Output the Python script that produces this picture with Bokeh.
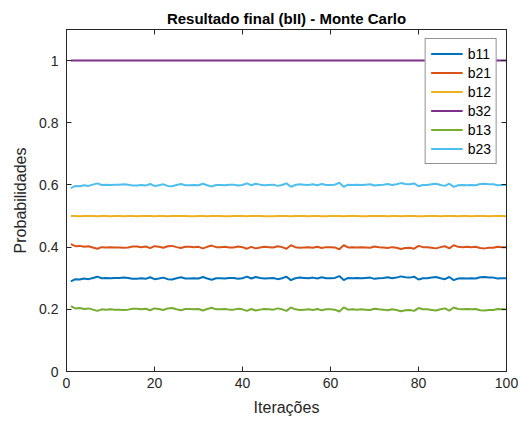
from bokeh.plotting import figure
from bokeh.models import LinearAxis, FixedTicker, Range1d, Legend, LegendItem
from bokeh.embed import file_html
from bokeh.resources import INLINE

iteracoes = list(range(1, 101))

b11 = [0.290, 0.297, 0.296, 0.299, 0.297, 0.301, 0.305, 0.300, 0.301, 0.300,
       0.301, 0.301, 0.302, 0.301, 0.298, 0.298, 0.300, 0.298, 0.303, 0.297,
       0.299, 0.302, 0.297, 0.296, 0.300, 0.303, 0.299, 0.299, 0.300, 0.299,
       0.304, 0.299, 0.295, 0.300, 0.300, 0.299, 0.301, 0.301, 0.298, 0.300,
       0.305, 0.299, 0.304, 0.301, 0.299, 0.300, 0.301, 0.297, 0.300, 0.305,
       0.294, 0.300, 0.302, 0.301, 0.300, 0.302, 0.299, 0.303, 0.300, 0.300,
       0.301, 0.307, 0.294, 0.301, 0.300, 0.301, 0.300, 0.301, 0.302, 0.298,
       0.300, 0.301, 0.303, 0.300, 0.302, 0.306, 0.303, 0.302, 0.305, 0.296,
       0.300, 0.300, 0.302, 0.304, 0.300, 0.297, 0.304, 0.294, 0.299, 0.300,
       0.299, 0.300, 0.299, 0.303, 0.304, 0.302, 0.302, 0.299, 0.300, 0.300]

b21 = [0.410, 0.403, 0.404, 0.401, 0.403, 0.399, 0.395, 0.400, 0.399, 0.400,
       0.399, 0.399, 0.398, 0.399, 0.402, 0.402, 0.400, 0.402, 0.397, 0.403,
       0.401, 0.398, 0.403, 0.404, 0.400, 0.397, 0.401, 0.401, 0.400, 0.401,
       0.396, 0.401, 0.405, 0.400, 0.400, 0.401, 0.399, 0.399, 0.402, 0.400,
       0.395, 0.401, 0.396, 0.399, 0.401, 0.400, 0.399, 0.403, 0.400, 0.395,
       0.406, 0.400, 0.398, 0.399, 0.400, 0.398, 0.401, 0.397, 0.400, 0.400,
       0.399, 0.393, 0.406, 0.399, 0.400, 0.399, 0.400, 0.399, 0.398, 0.402,
       0.400, 0.399, 0.397, 0.400, 0.398, 0.394, 0.397, 0.398, 0.395, 0.404,
       0.400, 0.400, 0.398, 0.396, 0.400, 0.403, 0.396, 0.406, 0.401, 0.400,
       0.401, 0.400, 0.401, 0.397, 0.396, 0.398, 0.398, 0.401, 0.400, 0.400]

b12 = [0.500, 0.500, 0.499, 0.500, 0.500, 0.500, 0.499, 0.500, 0.500, 0.499,
       0.500, 0.500, 0.499, 0.500, 0.500, 0.499, 0.500, 0.500, 0.500, 0.499,
       0.500, 0.500, 0.499, 0.500, 0.500, 0.500, 0.500, 0.499, 0.499, 0.500,
       0.500, 0.499, 0.500, 0.500, 0.500, 0.499, 0.499, 0.500, 0.500, 0.500,
       0.499, 0.500, 0.500, 0.500, 0.499, 0.499, 0.499, 0.500, 0.500, 0.500,
       0.499, 0.500, 0.500, 0.500, 0.499, 0.500, 0.500, 0.499, 0.499, 0.500,
       0.500, 0.500, 0.499, 0.500, 0.500, 0.500, 0.499, 0.499, 0.500, 0.500,
       0.500, 0.500, 0.499, 0.500, 0.500, 0.499, 0.500, 0.500, 0.500, 0.499,
       0.499, 0.500, 0.500, 0.500, 0.499, 0.500, 0.500, 0.500, 0.499, 0.500,
       0.500, 0.499, 0.500, 0.500, 0.500, 0.499, 0.500, 0.500, 0.500, 0.499]

b32 = [1.0] * 100

b13 = [0.210, 0.203, 0.204, 0.201, 0.203, 0.199, 0.195, 0.200, 0.199, 0.200,
       0.199, 0.199, 0.198, 0.199, 0.202, 0.202, 0.200, 0.202, 0.197, 0.203,
       0.201, 0.198, 0.203, 0.204, 0.200, 0.197, 0.201, 0.201, 0.200, 0.201,
       0.196, 0.201, 0.205, 0.200, 0.200, 0.201, 0.199, 0.199, 0.202, 0.200,
       0.195, 0.201, 0.196, 0.199, 0.201, 0.200, 0.199, 0.203, 0.200, 0.195,
       0.206, 0.200, 0.198, 0.199, 0.200, 0.198, 0.201, 0.197, 0.200, 0.200,
       0.199, 0.193, 0.206, 0.199, 0.200, 0.199, 0.200, 0.199, 0.198, 0.202,
       0.200, 0.199, 0.197, 0.200, 0.198, 0.194, 0.197, 0.198, 0.195, 0.204,
       0.200, 0.200, 0.198, 0.196, 0.200, 0.203, 0.196, 0.206, 0.201, 0.200,
       0.201, 0.200, 0.201, 0.197, 0.196, 0.198, 0.198, 0.201, 0.200, 0.200]

b23 = [0.590, 0.597, 0.596, 0.599, 0.597, 0.601, 0.605, 0.600, 0.601, 0.600,
       0.601, 0.601, 0.602, 0.601, 0.598, 0.598, 0.600, 0.598, 0.603, 0.597,
       0.599, 0.602, 0.597, 0.596, 0.600, 0.603, 0.599, 0.599, 0.600, 0.599,
       0.604, 0.599, 0.595, 0.600, 0.600, 0.599, 0.601, 0.601, 0.598, 0.600,
       0.605, 0.599, 0.604, 0.601, 0.599, 0.600, 0.601, 0.597, 0.600, 0.605,
       0.594, 0.600, 0.602, 0.601, 0.600, 0.602, 0.599, 0.603, 0.600, 0.600,
       0.601, 0.607, 0.594, 0.601, 0.600, 0.601, 0.600, 0.601, 0.602, 0.598,
       0.600, 0.601, 0.603, 0.600, 0.602, 0.606, 0.603, 0.602, 0.605, 0.596,
       0.600, 0.600, 0.602, 0.604, 0.600, 0.597, 0.604, 0.594, 0.599, 0.600,
       0.599, 0.600, 0.599, 0.603, 0.604, 0.602, 0.602, 0.599, 0.600, 0.600]

series_names = ["b11", "b21", "b12", "b32", "b13", "b23"]
series_values = [b11, b21, b12, b32, b13, b23]
series_colors = ["#0072BD", "#D95319", "#EDB120", "#7E2F8E", "#77AC30", "#4DBEEE"]

x_ticks = [0, 20, 40, 60, 80, 100]
y_ticks = [0, 0.2, 0.4, 0.6, 0.8, 1]
y_tick_labels = {0: "0", 0.2: "0.2", 0.4: "0.4", 0.6: "0.6", 0.8: "0.8", 1: "1"}

FONT = "Liberation Sans"
TXT = "#262626"

p = figure(width=521, height=423, output_backend="svg", toolbar_location=None,
           x_range=Range1d(0, 100), y_range=Range1d(0, 1.1),
           min_border_left=66, min_border_right=15, min_border_top=29,
           min_border_bottom=52)

p.title.text = "Resultado final (bII) - Monte Carlo"
p.title.align = "center"
p.title.text_font = FONT
p.title.text_font_size = "15px"
p.title.text_font_style = "bold"
p.title.text_color = "#000000"
p.title.standoff = 6

p.xgrid.visible = False
p.ygrid.visible = False
p.outline_line_color = TXT
p.outline_line_width = 1
p.background_fill_color = "white"
p.border_fill_color = "white"


def style_axis(ax, ticks, show_labels=True):
    ax.ticker = FixedTicker(ticks=ticks)
    ax.axis_line_color = TXT
    ax.major_tick_line_color = TXT
    ax.major_tick_in = 5
    ax.major_tick_out = 0
    ax.minor_tick_line_color = None
    ax.major_label_text_font = FONT
    ax.major_label_text_font_size = "14px"
    ax.major_label_text_color = TXT if show_labels else None
    ax.axis_label_text_font = FONT
    ax.axis_label_text_font_size = "16px"
    ax.axis_label_text_font_style = "normal"
    ax.axis_label_text_color = TXT
    if not show_labels:
        ax.major_label_standoff = 0


xa = p.xaxis[0]
style_axis(xa, x_ticks)
xa.axis_label = "Iterações"
xa.major_label_standoff = 6
xa.axis_label_standoff = 8

ya = p.yaxis[0]
style_axis(ya, y_ticks)
ya.major_label_overrides = y_tick_labels
ya.axis_label = "Probabilidades"
ya.major_label_standoff = 8
ya.axis_label_standoff = 7

top_ax = LinearAxis()
style_axis(top_ax, x_ticks, show_labels=False)
p.add_layout(top_ax, "above")
right_ax = LinearAxis()
style_axis(right_ax, y_ticks, show_labels=False)
p.add_layout(right_ax, "right")

items = []
for name, vals, col in zip(series_names, series_values, series_colors):
    r = p.line(iteracoes, vals, line_color=col, line_width=2)
    items.append(LegendItem(label=name, renderers=[r]))

legend = Legend(items=items, location="top_right")
legend.margin = 9
legend.padding = 5
legend.spacing = 0
legend.label_height = 19
legend.glyph_height = 19
legend.glyph_width = 32
legend.label_standoff = 5
legend.label_text_font = FONT
legend.label_text_font_size = "14px"
legend.label_text_color = "#000000"
legend.border_line_color = TXT
legend.border_line_width = 1
legend.background_fill_color = "white"
legend.background_fill_alpha = 1.0
p.add_layout(legend, "center")

open("out.html", "w").write(file_html(p, INLINE))
